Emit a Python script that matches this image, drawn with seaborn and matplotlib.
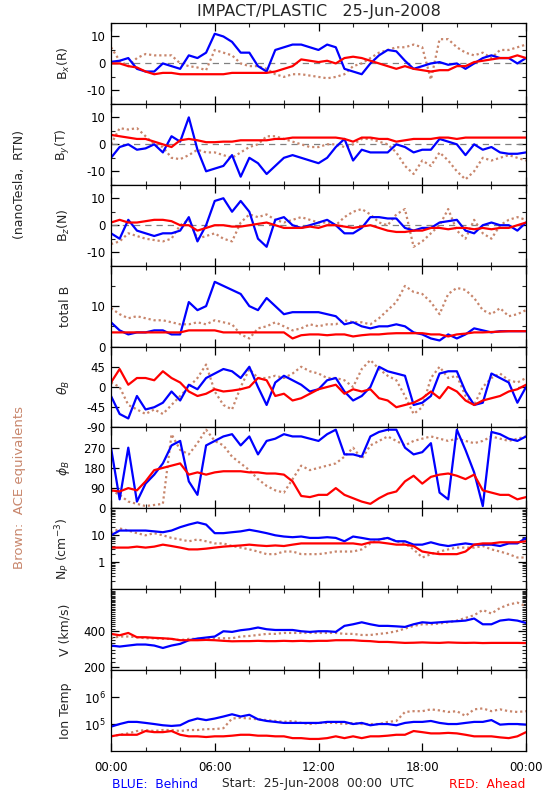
import numpy as np
import pandas as pd
import matplotlib
matplotlib.use("Agg")
import matplotlib.pyplot as plt
import seaborn as sns
from matplotlib.ticker import FixedLocator, LogLocator, NullFormatter

# Style
sns.set_style("ticks")
plt.rcParams['font.family'] = ['DejaVu Sans']
plt.rcParams['axes.linewidth'] = 0.9
plt.rcParams['xtick.direction'] = 'in'
plt.rcParams['ytick.direction'] = 'in'

BLUE = '#0000FF'
RED = '#FF0000'
BROWN = '#C8866C'

# Time grid (hours after 25-Jun-2008 00:00 UTC, 30 min steps)
hours = np.arange(0, 24.5, 0.5)
time_ticks = [0, 6, 12, 18, 24]
time_labels = ['00:00', '06:00', '12:00', '18:00', '00:00']

# Bx (R), nT
bx_behind = [0.6, 1, 2, -2, -3, -3, 0, -1, -2, 3, 2, 4, 11, 10, 8, 4, 4, -1, -3, 5,
             6, 7, 7, 6, 5, 7, 6, -2, -3, -4, 0, 3, 5, 4.5, 1, -2, -1, 0, 0.5, -0.5,
             0, -2, 0, 2, 3, 2, 2, 0, 2]
bx_ahead = [0, 0, -1, -1.5, -3, -4, -3.5, -3.5, -4, -4, -4, -4, -4, -4, -3.5, -3.5, -3.5, -3.5, -3.5, -3,
            -2, -1, 1.5, 1, 0.5, 1, 0, 2, 2.5, 2, 1, 0, -1, -2, -1, -2, -2.5, -3, -2.5, -2.5,
            -1, -1, 0.5, 1, 1.5, 2, 2, 3, 2]
bx_ace = [6, 1, -1, 2, 3.5, 3, 3, 3, 0, -1, -1.5, -2.5, 5, 4, 3, 0, -1, -1, -2, -4,
          -5, -4, -4, -4.5, -5, -5.5, -5, -4, -1, 0, 2, 4, 5, 6, 6, 7, 6, -6, 9, 9,
          6, 4, 3, 4, 2, 5, 5, 6, 7]

# By (T), nT
by_behind = [-5, -1, 0, -2, -1.5, 0, -3, 3, 1, 10, -2, -10, -9, -8, -4, -12, -5, -7, -11, -8,
             -5, -4, -5, -6, -7, -5, -1, 2, -6, -2, -3, -3, -3, 0, -1, -3, -2, -2, 2, 1,
             0, -4, 0, -2, -1, -3, -3.5, -3.5, -3]
by_ahead = [3.5, 3, 2.5, 2, 2, 1, 0, -1, 1.5, 2, 1.5, 0.8, 0.8, 1, 1, 1.5, 1.5, 1.5, 1.5, 2,
            2, 2.5, 2.5, 2.5, 2.5, 2.5, 2.5, 2, 1, 2.5, 2.5, 2, 2, 1, 1.5, 2, 2, 2, 2.5, 2.5,
            2, 2.5, 2.5, 2.5, 2.5, 2.5, 2.5, 2.5, 2.5]
by_ace = [0, 6, 5.5, 6, 3, 0, -1, -5, -5.5, -4, -2, -3, -3, -4, -5, -3, -1, 0, 3, 3,
          2, 1, 0, -1, -1, 0, 0, -1, 0, 2, 2, 1, 0, -3, -8, -11, -6, -8, -3, -6,
          -10, -13, -10, -5, -6, -5, -4, -5, -6]

# Bz (N), nT
bz_behind = [-3, -5, 2, -2, -3, -4, -3, -3, -2, 3, -6, 0, 9, 10, 5, 9, 5, -5, -8, 2,
             3, 0, -1, 0, 1, 2, 0, -3, -3, -1, 3, 3, 2.5, 2.5, -1, -2, -1, -1, 1, 1.5,
             2, -2, -3, 0, 1, 0, 0, -2, 1]
bz_ahead = [1, 2, 1, 1, 1.5, 2, 2, 1.5, 0, 0, -2, -1, 0, 0, -0.5, -0.5, 0, 0.5, 1, 0,
            -1, -1, -1, -0.5, -1, 0, 0, -0.5, -1, -0.5, 0, -1, -2, -2.5, -2.5, -2, -2, -1, -1, -1.5,
            -1, -1, -1.5, -1, -1.5, -1, -1, 0, 1]
bz_ace = [-7, -6, -3, -4, -5, -5.5, -6, -5, 0, 2, -5, -4, -3, -5, -6, 1, 4, 3, 4, 2,
          1, 2, 3, 2, 1, 1, 0, 3, 5, 6, 4, 1, 0, 4, 6, -8, -6, -3, 0, 6,
          -2, -5, 2, -3, -5, 0, 2, 3, 2]

# total B, nT
bt_behind = [6, 4, 3, 3.5, 3.5, 4, 4, 3, 3, 11, 9, 10, 16, 15, 14, 13, 10, 9, 12, 10,
             8, 8.5, 8.5, 8.5, 8.5, 8, 7.5, 5.5, 6, 5, 4.5, 5, 5, 5.5, 5, 3.5, 3, 2, 1.5, 3,
             2, 3, 4.5, 4, 3.5, 3.8, 3.8, 3.8, 3.8]
bt_ahead = [3.5, 3.5, 3.5, 3.5, 3.5, 3.5, 3.5, 3.5, 3.5, 4, 4, 4, 4, 3.5, 3.5, 3.5, 3.5, 3.5, 3.5, 3.5,
            3.5, 2, 2.8, 3, 3, 2.8, 3, 3, 2.5, 2.8, 3, 3, 3.2, 3.3, 3.3, 3.3, 3.3, 3, 3, 2.5,
            3, 3.2, 3.5, 3.5, 3.6, 3.7, 3.8, 3.8, 3.8]
bt_ace = [9.5, 8, 7, 7.5, 7, 6.5, 6.5, 6, 5.5, 5.5, 6, 5.5, 6.5, 6, 5.5, 3, 2, 4.5, 5, 6,
          5, 4, 4.5, 5.5, 5, 5.5, 5.5, 6.5, 6, 6, 5.5, 7, 9, 11, 15, 13.5, 13, 11, 8, 13,
          14.5, 14, 12, 9, 8, 9.5, 7.5, 8, 9]

# theta_B, deg
th_behind = [-20, -60, -70, -20, -50, -45, -35, -10, -30, 5, -5, 20, 30, 40, 35, 20, 45, 0, -40, 10,
             25, 15, 5, -10, -5, 15, 20, -10, -30, -20, 0, 45, 35, 30, 25, -40, -35, -20, 30, 35,
             35, -10, -40, -35, 30, 20, 10, -35, 0]
th_ahead = [10, 40, 5, 20, 20, 15, 35, 20, 10, -10, -20, -15, -5, -10, -8, -5, 0, 20, 15, -20,
            -15, -30, -25, -15, -5, 0, 5, -15, -5, -10, -5, -25, -30, -45, -40, -35, -25, -10, -25, 0,
            -10, -30, -40, -30, -25, -20, -10, -5, 5]
th_ace = [10, 0, -40, -50, -60, -50, -60, -40, -20, 0, 20, 50, -10, -40, -50, 0, 40, 20, 20, 25,
          20, 30, 45, 35, 30, 20, 20, 15, 0, 40, 60, 40, 25, 15, -20, -60, -45, 20, 45, 20,
          25, -20, -40, 0, 20, 30, 15, 10, 20]

# phi_B, deg
ph_behind = [270, 40, 270, 30, 110, 150, 200, 280, 300, 120, 60, 280, 300, 320, 330, 280, 320, 240, 300, 310,
             330, 320, 320, 310, 300, 330, 350, 240, 240, 230, 320, 340, 350, 350, 270, 240, 250, 290, 70, 40,
             350, 260, 160, 10, 340, 330, 310, 300, 320]
ph_ahead = [80, 75, 90, 80, 120, 170, 180, 190, 200, 150, 160, 150, 160, 165, 165, 165, 160, 160, 155, 155,
            150, 120, 55, 50, 60, 60, 90, 60, 45, 30, 20, 45, 65, 75, 120, 145, 110, 140, 150, 155,
            145, 130, 150, 80, 70, 60, 60, 40, 50]
ph_ace = [80, 60, 30, 20, 10, 15, 20, 330, 260, 240, 290, 350, 300, 280, 230, 200, 170, 130, 100, 80,
          70, 130, 190, 170, 180, 190, 200, 230, 270, 220, 280, 300, 320, 300, 280, 300, 310, 320, 310, 300,
          310, 300, 290, 300, 320, 310, 300, 310, 320]

# Np, cm^-3
np_behind = [10, 15, 15, 15, 15, 14, 13, 15, 20, 25, 30, 25, 12, 12, 13, 14, 16, 14, 12, 10,
             9, 8.5, 9, 8, 8, 8.5, 8, 6, 9, 8, 7, 7, 8, 6, 6, 4.5, 4.5, 5.5, 4.5, 4,
             4.5, 5, 4.5, 4.5, 4.5, 4, 5, 5, 8]
np_ahead = [3.5, 3.5, 3.5, 3.8, 3.5, 3.8, 4.5, 4, 3.5, 3, 3, 3.2, 3.5, 3.8, 4, 4.2, 4.5, 4.2, 4, 4.2,
            4, 4.5, 5, 5, 5, 5, 5, 5, 5, 4.5, 5.5, 5.5, 5, 4.5, 4.5, 4, 2.5, 2.2, 2, 2,
            2, 2.5, 4.5, 5, 5, 5.5, 5.5, 5.5, 6]
np_ace = [12, 18, 15, 12, 10, 12, 10, 8, 7, 6, 7, 6, 5, 5, 4, 3.5, 3, 2.5, 2, 2,
          2.5, 2.5, 2, 2, 2, 2.2, 2.5, 2.5, 2.5, 3, 5, 7, 8, 6, 5, 3, 1.5, 2, 2.5, 3,
          3.5, 3.5, 3.5, 4, 3, 2.5, 2, 1.5, 1.5]

# V, km/s
v_behind = [303, 297, 303, 309, 309, 303, 289, 303, 313, 336, 347, 354, 361, 400, 395, 408, 416, 430, 416, 410,
            410, 410, 400, 395, 400, 400, 395, 444, 458, 476, 458, 444, 444, 440, 435, 458, 476, 470, 476, 482,
            486, 492, 512, 458, 458, 492, 502, 492, 470]
v_ahead = [380, 370, 387, 356, 356, 352, 349, 345, 336, 336, 336, 338, 336, 332, 329, 330, 330, 332, 330, 330,
           332, 330, 332, 330, 332, 332, 336, 336, 336, 332, 330, 325, 325, 322, 319, 320, 322, 320, 319, 322,
           320, 319, 320, 318, 319, 319, 319, 319, 318]
v_ace = [349, 361, 361, 356, 349, 349, 345, 345, 336, 345, 345, 345, 349, 349, 349, 361, 365, 372, 380, 380,
         387, 387, 387, 387, 387, 387, 387, 380, 380, 372, 372, 380, 387, 400, 421, 444, 458, 458, 465, 476,
         492, 518, 546, 605, 564, 629, 671, 698, 650]

# Ion temperature, K
t_behind = [8e4, 1e5, 1.2e5, 1.2e5, 1.1e5, 1e5, 9e4, 8.5e4, 9e4, 1.3e5, 1.6e5, 1.4e5, 1.6e5, 1.9e5, 2.3e5, 1.9e5, 2.2e5, 1.5e5, 1.3e5, 1.2e5,
            1.1e5, 1.1e5, 1.1e5, 1.1e5, 1.1e5, 1.2e5, 1.2e5, 1.2e5, 1e5, 1.1e5, 9e4, 1e5, 1e5, 9e4, 1.1e5, 1.2e5, 1.2e5, 1.3e5, 1.1e5, 1e5,
            1e5, 1.1e5, 1.2e5, 1.2e5, 1.4e5, 9.5e4, 1e5, 1e5, 9.5e4]
t_ahead = [3.5e4, 4e4, 4e4, 4e4, 5.5e4, 5e4, 5e4, 5.5e4, 4e4, 3.5e4, 3.5e4, 3.3e4, 3.5e4, 3.5e4, 3.7e4, 4e4, 4e4, 3.7e4, 3.7e4, 3.5e4,
           3.5e4, 3e4, 3e4, 2.8e4, 2.8e4, 3e4, 3.5e4, 3e4, 3.5e4, 3e4, 3.5e4, 3.5e4, 3.7e4, 4e4, 4e4, 5.5e4, 5e4, 4.5e4, 4.5e4, 4.7e4,
           4.5e4, 4e4, 3.5e4, 3.5e4, 3.5e4, 3.2e4, 3e4, 3.5e4, 5e4]
t_ace = [3.5e4, 4e4, 4.5e4, 5.5e4, 6e4, 5.5e4, 6e4, 6e4, 5.5e4, 6e4, 6e4, 6.5e4, 6.5e4, 7e4, 1.6e5, 1.7e5, 1.6e5, 1.5e5, 1.4e5, 1.3e5,
         1.2e5, 1.3e5, 1.1e5, 1e5, 1.1e5, 1.1e5, 1.1e5, 1e5, 1.1e5, 1e5, 1e5, 1e5, 1.2e5, 1.3e5, 2.8e5, 3e5, 3e5, 3.5e5, 3.2e5, 2.8e5,
         3e5, 2e5, 3.5e5, 3.8e5, 3e5, 3.5e5, 3e5, 2.8e5, 3e5]


def panel_frame(ace, behind, ahead):
    frames = []
    for name, vals in (('ACE', ace), ('Behind', behind), ('Ahead', ahead)):
        frames.append(pd.DataFrame({'hour': hours, 'value': vals, 'craft': name}))
    return pd.concat(frames, ignore_index=True)


# label, data, ylim, labelled ticks, minor ticks, log scale, zero line
panels = [
    (r'B$_x$(R)', (bx_ace, bx_behind, bx_ahead), (-15, 15), [-10, 0, 10], [-15, -5, 5, 15], False, True),
    (r'B$_y$(T)', (by_ace, by_behind, by_ahead), (-15, 15), [-10, 0, 10], [-15, -5, 5, 15], False, True),
    (r'B$_z$(N)', (bz_ace, bz_behind, bz_ahead), (-15, 15), [-10, 0, 10], [-15, -5, 5, 15], False, True),
    ('total B', (bt_ace, bt_behind, bt_ahead), (0, 20), [0, 10], [5, 15], False, False),
    (r'$\theta_B$', (th_ace, th_behind, th_ahead), (-90, 90), [-90, -45, 0, 45], [], False, False),
    (r'$\phi_B$', (ph_ace, ph_behind, ph_ahead), (0, 360), [0, 90, 180, 270], [], False, False),
    (r'N$_P$ (cm$^{-3}$)', (np_ace, np_behind, np_ahead), (0.1, 100), [1, 10], None, True, False),
    ('V (km/s)', (v_ace, v_behind, v_ahead), (188, 905), [200, 400], list(range(220, 900, 20)), True, False),
    ('Ion Temp', (t_ace, t_behind, t_ahead), (1e4, 1e7), [1e5, 1e6], [], True, False),
]

fig, axes = plt.subplots(len(panels), 1, figsize=(5.5, 8), dpi=100, sharex=True)
fig.subplots_adjust(left=0.2018, right=0.9564, top=0.97125, bottom=0.06125, hspace=0)

for ax, (label, series, ylim, major, minor, logy, zero) in zip(axes, panels):
    df = panel_frame(*series)
    if logy:
        ax.set_yscale('log')
    if zero:
        ax.axhline(0, color='gray', lw=0.9, ls=(0, (5, 4)), zorder=1)
    sns.lineplot(data=df, x='hour', y='value', hue='craft', style='craft',
                 hue_order=['ACE', 'Behind', 'Ahead'], style_order=['ACE', 'Behind', 'Ahead'],
                 palette={'ACE': BROWN, 'Behind': BLUE, 'Ahead': RED},
                 dashes={'ACE': (1, 1.3), 'Behind': '', 'Ahead': ''},
                 linewidth=1.6, estimator=None, legend=False, ax=ax)
    ax.set_ylim(*ylim)
    ax.set_xlim(0, 24)

    ax.yaxis.set_major_locator(FixedLocator(major))
    if label == 'Ion Temp':
        ax.set_yticklabels([r'10$^5$', r'10$^6$'])
    else:
        ax.set_yticklabels([f'{m:g}' for m in major])
    if minor is None:
        ax.yaxis.set_minor_locator(LogLocator(base=10, subs=np.arange(2, 10)))
    else:
        ax.yaxis.set_minor_locator(FixedLocator(minor))
    ax.yaxis.set_minor_formatter(NullFormatter())

    ax.xaxis.set_major_locator(FixedLocator(time_ticks))
    ax.xaxis.set_minor_locator(FixedLocator([2, 4, 8, 10, 14, 16, 20, 22]))
    ax.tick_params(axis='both', which='major', length=6, width=0.9, top=True, right=True,
                   labelsize=8.5, pad=4, colors='black')
    ax.tick_params(axis='both', which='minor', length=3, width=0.8, top=True, right=True)
    ax.set_xlabel('')
    ax.set_ylabel(label, fontsize=9)
    ax.yaxis.set_label_coords(-0.095, 0.5)
    for sp in ax.spines.values():
        sp.set_visible(True)
        sp.set_color('black')

axes[-1].set_xticklabels(time_labels)
axes[-1].tick_params(axis='x', which='major', pad=7)

# Titles and side notes
fig.text(0.579, 0.986, 'IMPACT/PLASTIC   25-Jun-2008', ha='center', va='center', fontsize=11.5)
fig.text(0.036, 0.769, '(nanoTesla,  RTN)', rotation=90, ha='center', va='center', fontsize=9)
fig.text(0.036, 0.391, 'Brown:  ACE equivalents', rotation=90, ha='center', va='center',
         fontsize=9.5, color=BROWN)
fig.text(0.2036, 0.020, 'BLUE:  Behind', ha='left', va='center', fontsize=8.8, color=BLUE)
fig.text(0.578, 0.021, 'Start:  25-Jun-2008  00:00  UTC', ha='center', va='center', fontsize=8.8)
fig.text(0.956, 0.020, 'RED:  Ahead', ha='right', va='center', fontsize=8.8, color=RED)

fig.savefig('out.png', dpi=100, facecolor='white')
